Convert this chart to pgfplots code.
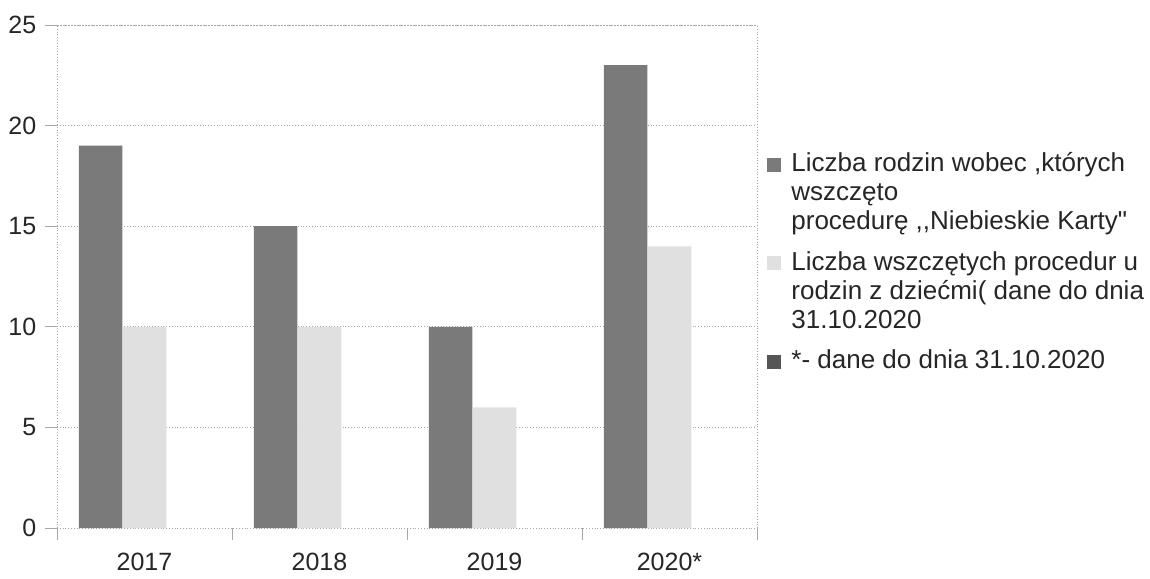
\documentclass[border=0pt]{standalone}
\usepackage{fontspec}
\setmainfont{Liberation Sans}[Ligatures=TeXOff]
\usepackage{pgfplots}
\pgfplotsset{compat=1.18}
\definecolor{darkbar}{HTML}{7A7A7A}
\definecolor{lightbar}{HTML}{E0E0E0}
\definecolor{starbar}{HTML}{555555}
\definecolor{gridgray}{HTML}{A8A8A8}
% legend square raised to the first of three lines
\pgfplotsset{raised legend/.style={
    legend image code/.code={\fill[##1, draw=none] (0pt,29pt) rectangle (7pt,36pt);}}}
\begin{document}
\fontsize{12.5}{14.5}\selectfont
\begin{tikzpicture}
\path (0pt,0pt) rectangle (575pt,286pt);
\begin{axis}[
    at={(28.5pt,22pt)}, anchor=south west,
    scale only axis, width=350pt, height=251.5pt,
    xmin=-0.5, xmax=3.5, ymin=0, ymax=25,
    ytick={0,5,...,25},
    xtick={-0.5,0.5,1.5,2.5,3.5},
    xticklabels={},
    extra x ticks={0,1,2,3},
    extra x tick labels={2017,2018,2019,2020*},
    extra x tick style={major tick length=0pt, grid=none},
    xtick pos=bottom, ytick pos=left,
    tick align=outside,
    major tick length=6pt,
    tick style={gridgray, thin},
    axis line style={gridgray, densely dotted},
    ymajorgrids, y grid style={gridgray, densely dotted},
    /pgf/number format/assume math mode=true,
    ticklabel style={font=\fontsize{12.5}{14.5}\selectfont, text=black!85},
    xticklabel style={yshift=-8pt},
    legend style={at={(1,0.755)}, anchor=north west, xshift=5pt,
        draw=none, fill=none, inner sep=0pt, row sep=5pt, column sep=3pt,
        font=\fontsize{13}{14.5}\selectfont, text=black!85,
        cells={anchor=base west, align=left}},
    legend image code/.code={\fill[#1, draw=none] (0pt,0pt) rectangle (7pt,7pt);},
]
\addplot[ybar, bar width=21.75pt, bar shift=-22pt, fill=darkbar, draw=none, raised legend]
    coordinates {(0,19) (1,15) (2,10) (3,23)};
\addlegendentry{Liczba rodzin wobec ,których\\wszczęto\\procedurę ,,Niebieskie Karty"}
\addplot[ybar, bar width=21.75pt, bar shift=0pt, fill=lightbar, draw=none, raised legend]
    coordinates {(0,10) (1,10) (2,6) (3,14)};
\addlegendentry{Liczba wszczętych procedur u\\rodzin z dziećmi( dane do dnia\\31.10.2020}
\addlegendimage{fill=starbar}
\addlegendentry{*- dane do dnia 31.10.2020}
\end{axis}
\end{tikzpicture}
\end{document}
